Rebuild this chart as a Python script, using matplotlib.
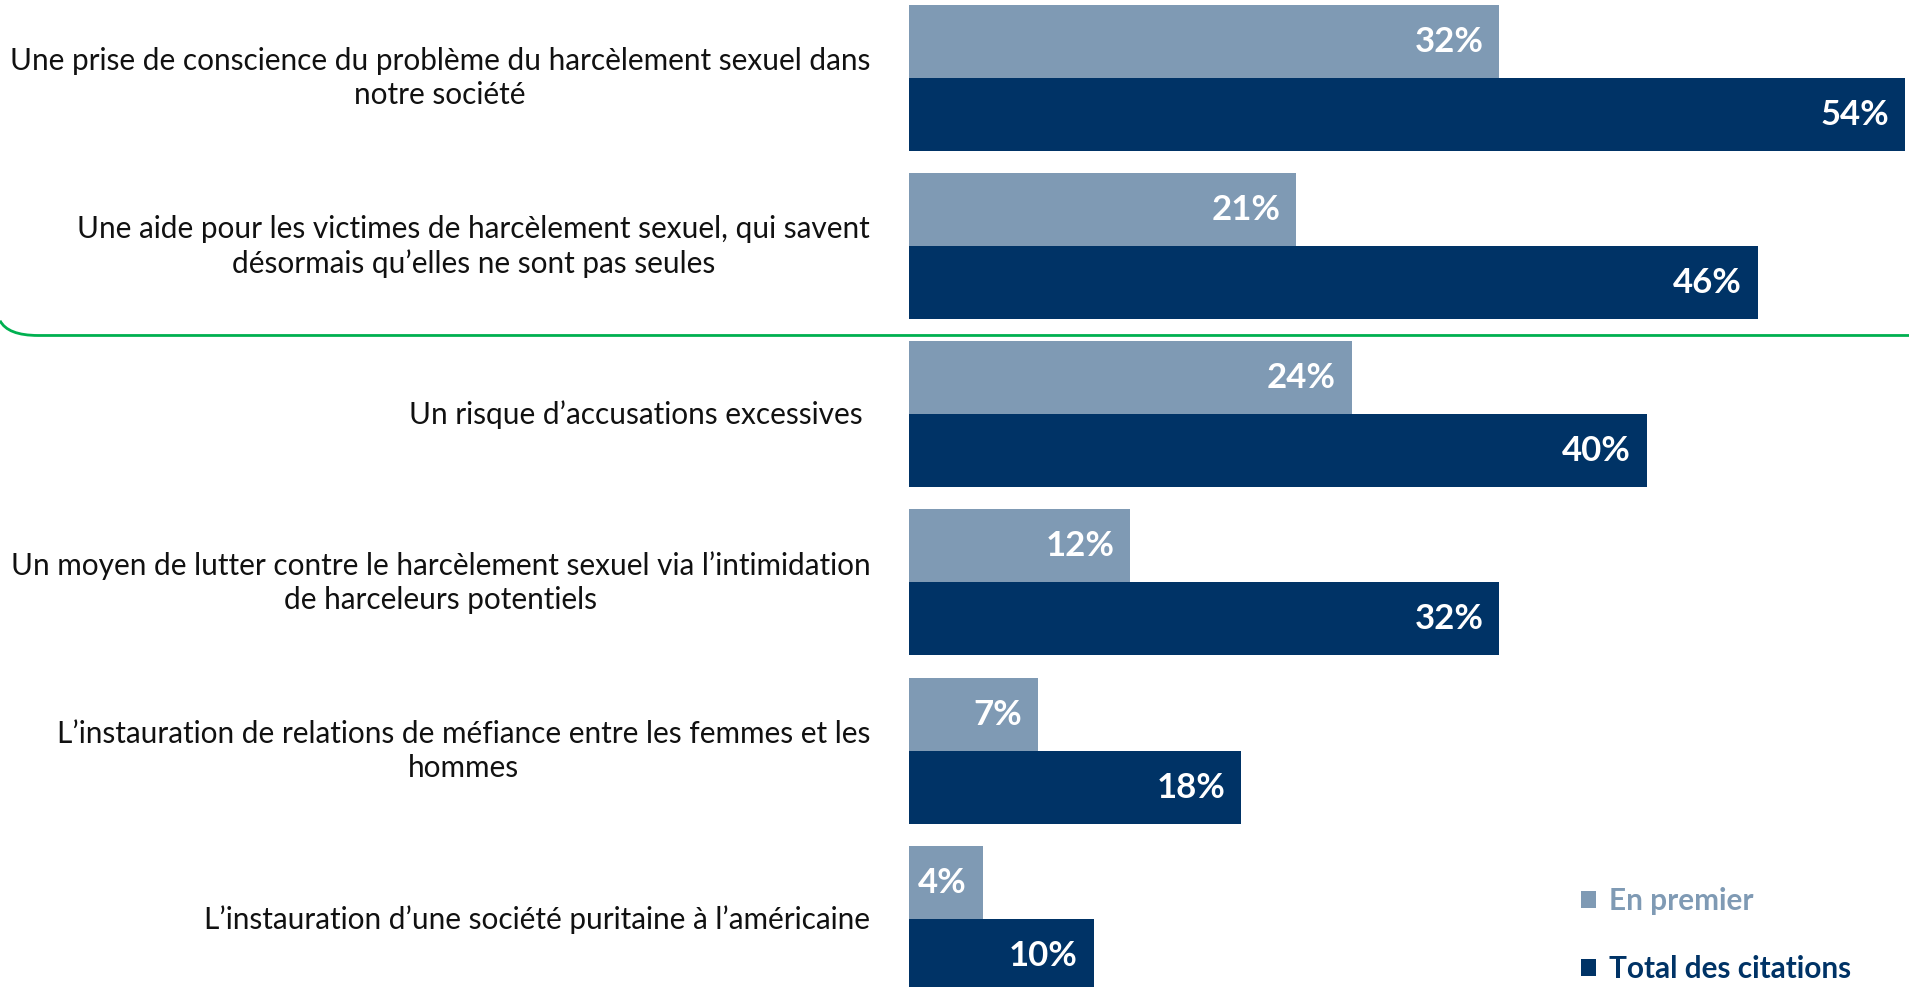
import numpy as np
import matplotlib.pyplot as plt
from matplotlib.path import Path
from matplotlib.patches import PathPatch
from matplotlib import transforms

plt.rcParams["font.family"] = ["Lato", "DejaVu Sans"]

# ------------------------------------------------------------------ data
labels = [
    "Une prise de conscience du problème du harcèlement sexuel dans\nnotre société",
    "Une aide pour les victimes de harcèlement sexuel, qui savent\ndésormais qu\u2019elles ne sont pas seules",
    "Un risque d\u2019accusations excessives ",
    "Un moyen de lutter contre le harcèlement sexuel via l\u2019intimidation\nde harceleurs potentiels",
    "L\u2019instauration de relations de méfiance entre les femmes et les\nhommes",
    "L\u2019instauration d\u2019une société puritaine à l\u2019américaine",
]
en_premier = [32, 21, 24, 12, 7, 4]
total = [54, 46, 40, 32, 18, 10]
series_names = ["En premier", "Total des citations"]

LIGHT = "#7f9ab4"
DARK = "#003366"
GREEN = "#00b050"
TEXT = "#111111"

# ---------------------------------------------------------------- layout
W, H = 1909, 987
X0 = 909          # left edge of bars (px)
PX_PER = 18.44    # px per percent
PITCH = 168.2     # px between groups
C0 = 78           # px of first group centre
h = 73 / PITCH

fig = plt.figure(figsize=((W + 0.3) / 100, (H + 0.3) / 100), dpi=100)
ax = fig.add_axes([X0 / W, 0, 1 - X0 / W, 1])
ax.set_xlim(0, (W - X0) / PX_PER)
ax.set_ylim((H - C0) / PITCH, -C0 / PITCH)
ax.axis("off")

y = np.arange(len(labels))
ax.barh(y - h / 2, en_premier, height=h, color=LIGHT, label=series_names[0])
ax.barh(y + h / 2, total, height=h, color=DARK, label=series_names[1])

pad = 16 / PX_PER
for yi, a, b in zip(y, en_premier, total):
    ax.text(a - pad, yi - h / 2, f"{a}%", ha="right", va="center",
            color="white", fontsize=25, fontweight="bold")
    ax.text(b - pad, yi + h / 2, f"{b}%", ha="right", va="center",
            color="white", fontsize=25, fontweight="bold")

lab_x = -(X0 - 870) / PX_PER
for yi, lab in zip(y, labels):
    ax.text(lab_x, yi, lab, ha="right", va="center", multialignment="center",
            fontsize=21.4, color=TEXT, linespacing=1.28, clip_on=False)

# green bracket under the first two items
tr = transforms.blended_transform_factory(fig.transFigure, ax.transData)
yl = 1.532
verts = [(0.0, yl - 0.088), (0.004, yl), (0.02, yl), (1.0, yl)]
codes = [Path.MOVETO, Path.CURVE3, Path.CURVE3, Path.LINETO]
ax.add_patch(PathPatch(Path(verts, codes), fill=False, edgecolor=GREEN,
                       lw=2, transform=tr, clip_on=False))

leg = fig.legend(loc="upper left", bbox_to_anchor=(1581 / W, 1 - 887 / H),
                 frameon=False, fontsize=21.4, handlelength=0.5,
                 handleheight=0.5, handletextpad=0.45, labelspacing=1.35,
                 borderpad=0, borderaxespad=0)
for txt, col in zip(leg.get_texts(), [LIGHT, DARK]):
    txt.set_color(col)
    txt.set_fontweight("bold")

fig.savefig("out.png", dpi=100)
